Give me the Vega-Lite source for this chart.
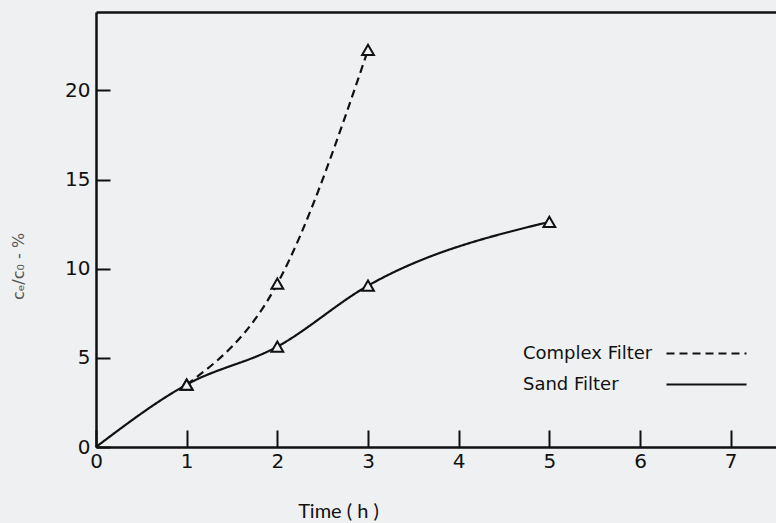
{
  "$schema": "https://vega.github.io/schema/vega-lite/v6.json",
  "width": 680,
  "height": 435,
  "autosize": {"type": "none"},
  "padding": {"left": 96, "top": 12, "right": 0, "bottom": 76},
  "background": "#eef0f1",
  "config": {
    "view": {"stroke": null},
    "font": "Lato",
    "axis": {
      "domainColor": "#111111",
      "domainWidth": 2.5,
      "tickColor": "#111111",
      "tickWidth": 2,
      "labelColor": "#111111",
      "labelFont": "DejaVu Sans",
      "labelFontSize": 20,
      "grid": false
    }
  },
  "data": {
    "values": [
      {"filter": "Sand Filter", "t": 0, "v": 0},
      {"filter": "Sand Filter", "t": 1, "v": 3.5},
      {"filter": "Sand Filter", "t": 2, "v": 5.63},
      {"filter": "Sand Filter", "t": 3, "v": 9.05},
      {"filter": "Sand Filter", "t": 5, "v": 12.63},
      {"filter": "Complex Filter", "t": 1, "v": 3.5},
      {"filter": "Complex Filter", "t": 2, "v": 9.16},
      {"filter": "Complex Filter", "t": 3, "v": 22.27}
    ]
  },
  "layer": [
    {
      "mark": {"type": "line", "interpolate": "monotone", "strokeWidth": 2.2, "color": "#111111"},
      "encoding": {
        "x": {
          "field": "t",
          "type": "quantitative",
          "scale": {"domain": [0, 7.5], "nice": false, "zero": false},
          "axis": {
            "orient": "bottom",
            "values": [0, 1, 2, 3, 4, 5, 6, 7],
            "tickSize": -17,
            "labelPadding": 21,
            "labelFlush": false,
            "title": "Time ( h )",
            "titleFont": "Lato",
            "titleFontSize": 20,
            "titleFontWeight": "normal",
            "titleColor": "#111111",
            "titleAnchor": "start",
            "titleAlign": "center",
            "titleBaseline": "alphabetic",
            "titleX": 242,
            "titleY": 70
          }
        },
        "y": {
          "field": "v",
          "type": "quantitative",
          "scale": {"domain": [0, 24.4], "nice": false},
          "axis": {
            "values": [0, 5, 10, 15, 20],
            "tickSize": -14,
            "labelPadding": 20,
            "labelFlush": false,
            "title": "cₑ/c₀ - %",
            "titleFont": "DejaVu Sans",
            "titleFontSize": 16,
            "titleFontWeight": "normal",
            "titleColor": "#555555",
            "titleAngle": 270,
            "titleAlign": "center",
            "titleBaseline": "middle",
            "titleX": -78,
            "titleY": 254
          }
        },
        "strokeDash": {
          "field": "filter",
          "type": "nominal",
          "scale": {"domain": ["Complex Filter", "Sand Filter"], "range": [[8, 5], [1, 0]]},
          "legend": {
            "orient": "none",
            "legendX": 599,
            "legendY": 330,
            "title": null,
            "symbolType": "M-4,0H4",
            "symbolSize": 400,
            "symbolStrokeWidth": 2.2,
            "symbolStrokeColor": "#111111",
            "rowPadding": 10,
            "labelFont": "DejaVu Sans",
            "labelFontSize": 18,
            "labelColor": "#111111",
            "labelAlign": "left",
            "labelOffset": -195,
            "labelLimit": 300
          }
        }
      }
    },
    {
      "transform": [{"filter": "datum.t > 0"}],
      "mark": {"type": "point", "shape": "triangle-up", "filled": true, "fill": "#eef0f1", "stroke": "#111111", "strokeWidth": 2, "size": 140, "opacity": 1},
      "encoding": {
        "x": {
          "field": "t",
          "type": "quantitative",
          "scale": {"domain": [0, 7.5], "nice": false, "zero": false},
          "axis": {"orient": "top", "labels": false, "ticks": false, "title": null, "domain": true}
        },
        "y": {"field": "v", "type": "quantitative"}
      }
    }
  ],
  "resolve": {"axis": {"x": "independent"}}
}
